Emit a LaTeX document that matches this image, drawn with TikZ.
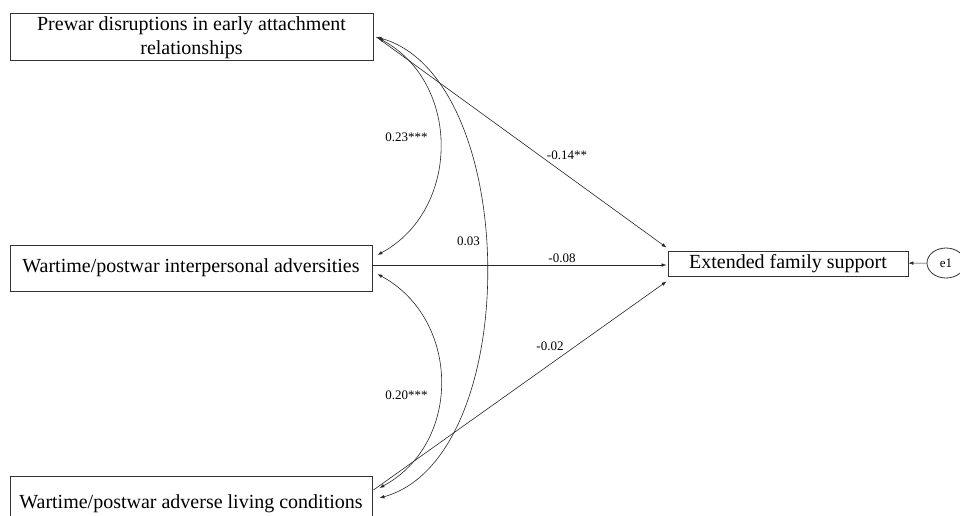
\documentclass[tikz,border=0pt]{standalone}
\usepackage{fontspec}
\setmainfont{Liberation Serif}
\usetikzlibrary{arrows.meta,shapes.geometric,calc}
\begin{document}
\begin{tikzpicture}[x=1pt,y=-1pt,
  box/.style={draw=black!80, line width=0.8pt, inner sep=0pt, font=\fontsize{20}{24}\selectfont, align=center},
  lbl/.style={font=\fontsize{13}{15}\selectfont, inner sep=0pt},
  tip/.tip={Latex[length=5pt,width=3.5pt]},
  pathline/.style={draw=black!85, line width=0.6pt, -tip},
  covline/.style={draw=black!85, line width=0.6pt, tip-tip}]
\clip (0,0) rectangle (960,515);
\fill[white] (0,0) rectangle (960,515);
% boxes
\node[box, minimum width=363pt, minimum height=47pt, text height=40pt, text depth=4pt] (pre) at (191.5,36.5)
  {Prewar disruptions in early attachment\\relationships};
\node[box, minimum width=362pt, minimum height=46pt] (inter) at (191,268)
  {Wartime/postwar interpersonal adversities};
\node[box, minimum width=362pt, minimum height=56pt] (living) at (191,504)
  {Wartime/postwar adverse living conditions};
\node[box, minimum width=240pt, minimum height=25pt] (ext) at (788,263.5)
  {Extended family support};
\node[draw=black!80, line width=0.8pt, ellipse, minimum width=38pt, minimum height=30pt, inner sep=0pt,
  font=\fontsize{13}{15}\selectfont] (e1) at (946,263) {e1};
% anchor points
\coordinate (preA) at ([xshift=5pt,yshift=-1.5pt]pre.east);
\coordinate (preB) at ([xshift=3pt,yshift=-0.5pt]pre.east);
\coordinate (interA) at ([xshift=5pt,yshift=13pt]inter.east);
\coordinate (interB) at ([xshift=5pt,yshift=-6pt]inter.east);
\coordinate (interC) at ([yshift=3pt]inter.east);
\coordinate (livA) at ([xshift=7pt,yshift=16pt]living.east);
\coordinate (livB) at ([xshift=7pt,yshift=6pt]living.east);
\coordinate (livC) at ([xshift=1pt,yshift=14pt]living.east);
\coordinate (extA) at ([xshift=-1pt,yshift=3pt]ext.north west);
\coordinate (extB) at ([xshift=-1pt,yshift=-1.5pt]ext.west);
\coordinate (extC) at ([xshift=-1pt,yshift=-5pt]ext.south west);
% covariances
\draw[covline] (preA) .. controls +(83,45) and +(83,-45) .. (interA);
\draw[covline] (interB) .. controls +(83,45) and +(83,-45) .. (livA);
\draw[covline] (preB) .. controls +(145,40) and +(145,-40) .. (livB);
% paths
\draw[pathline] (preB) -- (extA);
\draw[pathline] (interC) -- (extB);
\draw[pathline] (livC) -- (extC);
\draw[pathline] (e1) -- (ext);
% labels
\node[lbl] (l1) at (406.5,137) {0.23***};
\node[lbl] (l2) at (406.5,395) {0.20***};
\node[lbl] (l3) at (468.5,241) {0.03};
\node[lbl] (l4) at (567,155) {-0.14**};
\node[lbl] (l5) at (562,258) {-0.08};
\node[lbl] (l6) at (550,346) {-0.02};
\end{tikzpicture}
\end{document}
